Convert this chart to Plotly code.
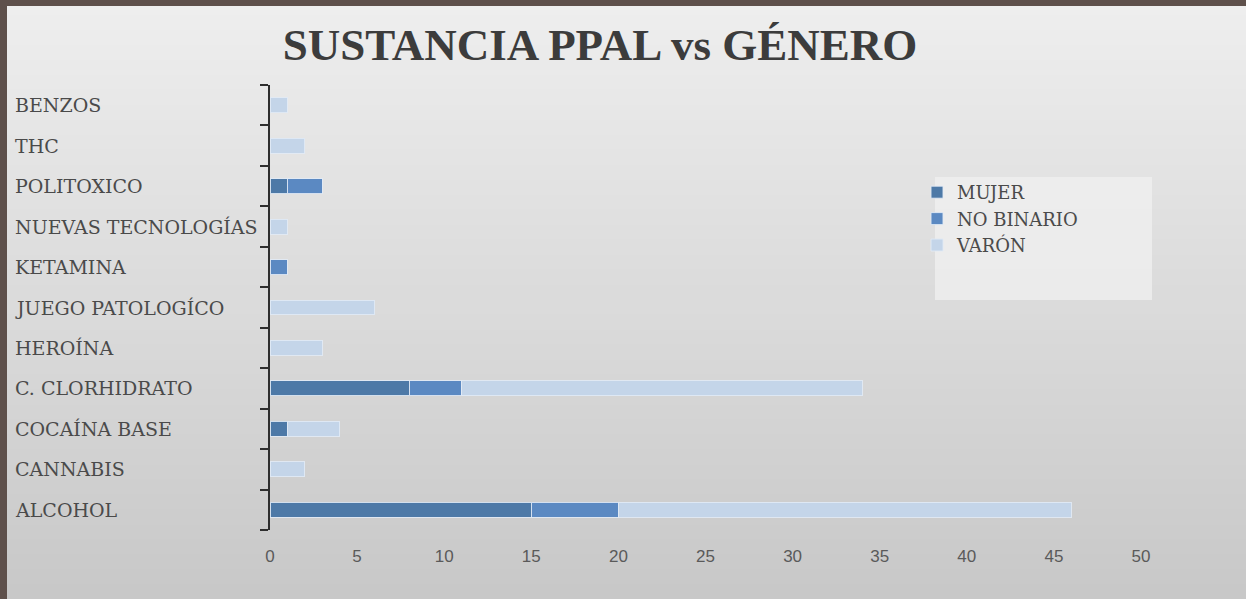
import plotly.graph_objects as go

categories = ["ALCOHOL", "CANNABIS", "COCAÍNA BASE", "C. CLORHIDRATO", "HEROÍNA",
              "JUEGO PATOLOGÍCO", "KETAMINA", "NUEVAS TECNOLOGÍAS", "POLITOXICO", "THC", "BENZOS"]
mujer = [15, 0, 1, 8, 0, 0, 0, 0, 1, 0, 0]
no_binario = [5, 0, 0, 3, 0, 0, 1, 0, 2, 0, 0]
varon = [26, 2, 3, 23, 3, 6, 0, 1, 0, 2, 1]
x_ticks = [0, 5, 10, 15, 20, 25, 30, 35, 40, 45, 50]

series = [("MUJER", mujer, "#4d79a7"), ("NO BINARIO", no_binario, "#5b89c2"), ("VARÓN", varon, "#c4d5e9")]

W, H = 1246, 599
ML, MR, MT, MB = 270, 105, 85, 69
PW, PH = W - ML - MR, H - MT - MB

def px(x):
    return (x - ML) / PW

def py(y):
    return (H - MB - y) / PH

fig = go.Figure()
for name, vals, col in series:
    fig.add_trace(go.Bar(
        y=categories, x=[v if v else None for v in vals], name=name, orientation="h",
        marker=dict(color=col, line=dict(color="rgba(225,234,245,0.9)", width=1)),
    ))

shapes = []
n = 40
top, bot = (238, 238, 238), (200, 200, 200)
for i in range(n):
    t = i / (n - 1)
    c = tuple(round(top[k] + (bot[k] - top[k]) * t) for k in range(3))
    y0 = i * H / n
    y1 = (i + 1) * H / n + 1
    shapes.append(dict(type="rect", xref="paper", yref="paper", layer="below",
                       x0=px(0), x1=px(W), y0=py(y1), y1=py(y0),
                       fillcolor="rgb(%d,%d,%d)" % c, line=dict(width=0)))
shapes.append(dict(type="rect", xref="paper", yref="paper", layer="below",
                   x0=px(935), x1=px(1152), y0=py(300), y1=py(177),
                   fillcolor="rgba(240,240,240,0.75)", line=dict(width=0)))
shapes.append(dict(type="rect", xref="paper", yref="paper", layer="above",
                   x0=px(0), x1=px(7), y0=py(H), y1=py(0),
                   fillcolor="#5e504b", line=dict(width=0)))
shapes.append(dict(type="rect", xref="paper", yref="paper", layer="above",
                   x0=px(0), x1=px(W), y0=py(6), y1=py(0),
                   fillcolor="#5e504b", line=dict(width=0)))

annotations = [dict(text=c, x=px(13), xref="paper", y=c, yref="y", xanchor="left",
                    yanchor="middle", showarrow=False,
                    font=dict(family="DejaVu Serif", size=19, color="#4a4a4a"))
               for c in categories]

fig.update_layout(
    width=W, height=H,
    margin=dict(l=ML, r=MR, t=MT, b=MB),
    paper_bgcolor="#e2e2e2", plot_bgcolor="rgba(0,0,0,0)",
    barmode="stack", bargap=0.63,
    title=dict(text="<b>SUSTANCIA PPAL vs GÉNERO</b>", xref="container", x=600 / W, xanchor="center",
               yref="container", y=1 - 44 / H, yanchor="middle",
               font=dict(family="Liberation Serif", size=45, color="#3c3c3c")),
    xaxis=dict(range=[0, 50], tickvals=x_ticks, showgrid=False, zeroline=False,
               showline=False, ticks="", ticklabelstandoff=14,
               tickfont=dict(family="Liberation Sans", size=17, color="#5a5a5a")),
    yaxis=dict(type="category", categoryorder="array", categoryarray=categories,
               range=[-0.5, len(categories) - 0.5],
               showgrid=False, zeroline=False, showline=True, linecolor="#2e2e2e", linewidth=2,
               ticks="outside", tickson="boundaries", ticklen=8, tickwidth=2, tickcolor="#2e2e2e",
               showticklabels=False),
    legend=dict(x=px(917), y=py(174), xanchor="left", yanchor="top", bgcolor="rgba(0,0,0,0)",
                font=dict(family="DejaVu Serif", size=18, color="#4a4a4a"),
                traceorder="normal", itemwidth=30, tracegroupgap=0),
    shapes=shapes, annotations=annotations, showlegend=True,
)

fig.write_html("out.html", config={"displayModeBar": False},
               post_script="document.body.style.margin='0';document.body.style.overflow='hidden';")
